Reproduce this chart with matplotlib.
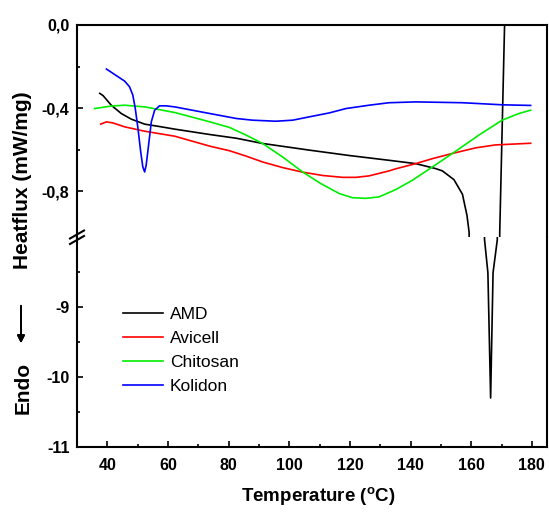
import matplotlib
matplotlib.use("Agg")
import matplotlib.pyplot as plt
from matplotlib.lines import Line2D
from matplotlib.ticker import FixedLocator

plt.rcParams['font.family'] = 'Liberation Sans'
plt.rcParams['mathtext.fontset'] = 'custom'
plt.rcParams['mathtext.rm'] = 'Liberation Sans'
plt.rcParams['mathtext.bf'] = 'Liberation Sans:bold'

# DSC traces (temperature in C, heatflux in mW/mg)
amd_t = [37.5, 38.6, 41.3, 44.6, 47.9, 52.3, 57.8, 62.2, 73.8, 82.6, 91.2, 106.6, 119.8,
         132.9, 141.7, 148.3, 150.5, 154.3, 157.1, 158.6, 159.3, 164.4, 165.5, 166.4,
         167.2, 168.6, 169.4, 171.0, 171.4]
amd_v = [-0.329, -0.34, -0.386, -0.426, -0.453, -0.477, -0.49, -0.501, -0.527, -0.545,
         -0.57, -0.602, -0.628, -0.651, -0.667, -0.691, -0.702, -0.744, -0.814, -0.916,
         -0.996, -8.04, -8.51, -10.3, -8.51, -8.04, -1.0, 0.0, 0.3]

avicell_t = [37.8, 39.7, 41.8, 45.7, 52.3, 62.2, 73.8, 80.3, 85.8, 91.2, 97.8, 104.4,
             111.0, 117.6, 122.0, 126.3, 132.9, 135.1, 141.7, 147.2, 153.8, 161.5, 168.0,
             179.6]
avicell_v = [-0.477, -0.466, -0.471, -0.49, -0.511, -0.535, -0.583, -0.605, -0.631,
             -0.659, -0.686, -0.708, -0.724, -0.733, -0.733, -0.726, -0.702, -0.692,
             -0.667, -0.643, -0.618, -0.591, -0.577, -0.569]

chitosan_t = [35.8, 41.3, 45.7, 52.3, 62.2, 73.8, 80.3, 85.8, 91.2, 97.8, 104.4, 110.4,
              116.5, 120.8, 125.3, 129.6, 135.1, 140.6, 147.2, 153.8, 162.5, 170.2, 175.7,
              179.6]
chitosan_v = [-0.402, -0.39, -0.386, -0.394, -0.421, -0.466, -0.493, -0.53, -0.57, -0.635,
              -0.707, -0.763, -0.811, -0.831, -0.834, -0.827, -0.792, -0.747, -0.683,
              -0.618, -0.53, -0.458, -0.426, -0.41]

kolidon_t = [39.7, 45.7, 47.3, 48.4, 49.2, 50.1, 51.0, 51.7, 52.3, 52.8, 53.6, 54.5,
             55.6, 57.2, 59.4, 62.2, 73.8, 82.6, 87.9, 95.6, 101.1, 106.6, 113.2, 118.7,
             126.3, 132.9, 141.7, 157.1, 170.2, 179.6]
kolidon_v = [-0.212, -0.27, -0.297, -0.337, -0.401, -0.498, -0.61, -0.683, -0.707, -0.675,
             -0.578, -0.466, -0.41, -0.389, -0.389, -0.394, -0.426, -0.45, -0.458, -0.463,
             -0.458, -0.442, -0.423, -0.402, -0.386, -0.374, -0.37, -0.374, -0.384, -0.387]

series = [
    ('AMD', amd_t, amd_v, 'black'),
    ('Avicell', avicell_t, avicell_v, '#ff0000'),
    ('Chitosan', chitosan_t, chitosan_v, '#00ee00'),
    ('Kolidon', kolidon_t, kolidon_v, '#0000ff'),
]

x_major = [40, 60, 80, 100, 120, 140, 160, 180]
x_minor = [50, 70, 90, 110, 130, 150, 170]
top_ticks = [0.0, -0.4, -0.8]
top_labels = ['0,0', '-0,4', '-0,8']
bot_ticks = [-9, -10, -11]
bot_labels = ['-9', '-10', '-11']

fig = plt.figure(figsize=(5.49, 5.13), dpi=100)
ax_top = fig.add_axes([0.1403, 0.538, 0.8561, 0.4133])
ax_bot = fig.add_axes([0.1403, 0.1287, 0.8561, 0.4093])

for ax in (ax_top, ax_bot):
    for name, t, v, c in series:
        ax.plot(t, v, color=c, lw=1.2, label=name)
    ax.set_xlim(30, 185)
    ax.xaxis.set_major_locator(FixedLocator(x_major))
    ax.xaxis.set_minor_locator(FixedLocator(x_minor))
    for s in ax.spines.values():
        s.set_linewidth(1.5)
    ax.tick_params(which='both', direction='in', width=1.2, labelsize=11.5, pad=5.5)
    ax.tick_params(which='major', length=4)
    ax.tick_params(which='minor', length=2.5)

# upper part of the broken axis
ax_top.set_ylim(-1.02, 0)
ax_top.set_yticks(top_ticks)
ax_top.set_yticklabels(top_labels, fontweight='bold')
ax_top.yaxis.set_minor_locator(FixedLocator([-0.2, -0.6]))
ax_top.spines['bottom'].set_visible(False)
ax_top.tick_params(axis='x', which='both', bottom=False, labelbottom=False)

# lower part
ax_bot.set_ylim(-11, -8)
ax_bot.set_yticks(bot_ticks)
ax_bot.set_yticklabels(bot_labels, fontweight='bold')
ax_bot.yaxis.set_minor_locator(FixedLocator([-8.5, -9.5, -10.5]))
ax_bot.spines['top'].set_visible(False)
ax_bot.set_xticks(x_major)
ax_bot.set_xticklabels([str(x) for x in x_major], fontweight='bold')
ax_bot.tick_params(axis='x', pad=8)

# break marks on the left spine
for yc in (234.5, 240.0):
    fig.add_artist(Line2D([70 / 549, 84 / 549], [1 - (yc + 4) / 513, 1 - (yc - 4) / 513],
                          transform=fig.transFigure, color='black', lw=1.5))

ax_bot.legend(loc='center left', bbox_to_anchor=(123 / 549, 1 - 350.5 / 513),
              bbox_transform=fig.transFigure, frameon=False, fontsize=12.5,
              handlelength=2.3, handletextpad=0.4, labelspacing=0.5,
              borderpad=0, borderaxespad=0)

fig.text(318 / 549, 1 - 497 / 513, r'Temperature ($^{\mathbf{o}}$C)', ha='center', va='center',
         fontsize=13.5, fontweight='bold')
fig.text(23 / 549, 1 - 180 / 513, 'Heatflux (mW/mg)', rotation=90, ha='center', va='center',
         fontsize=15, fontweight='bold')
fig.text(23 / 549, 1 - 388 / 513, 'Endo', rotation=90, ha='center', va='center',
         fontsize=15, fontweight='bold')
fig.add_artist(plt.annotate('', xy=(21 / 549, 1 - 346 / 513), xytext=(21 / 549, 1 - 303 / 513),
                            xycoords='figure fraction', textcoords='figure fraction',
                            arrowprops=dict(arrowstyle='-|>', color='black', lw=1.3,
                                            mutation_scale=11)))

fig.savefig('out.png', dpi=100)
